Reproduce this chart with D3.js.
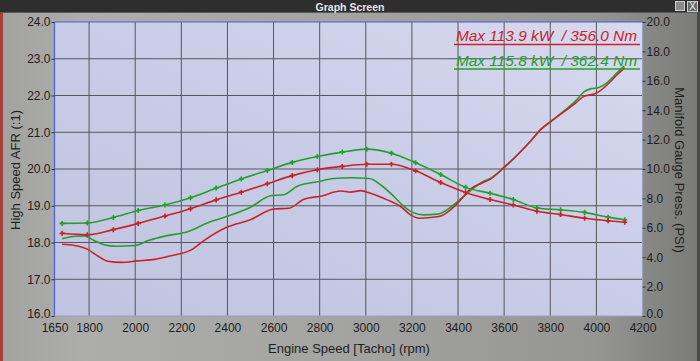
<!DOCTYPE html>
<html>
<head>
<meta charset="utf-8">
<script src="https://cdn.jsdelivr.net/npm/d3@7/dist/d3.min.js"></script>
<style>
  html, body { margin: 0; padding: 0; background: #9c9c9a; }
  svg { display: block; }
  text { font-family: "Liberation Sans", Arial, sans-serif; }
</style>
</head>
<body>
<svg id="chart" width="700" height="361"></svg>
<script>
// ---------------- DATA ----------------
const xTicks = [1650, 1800, 2000, 2200, 2400, 2600, 2800, 3000, 3200, 3400, 3600, 3800, 4000, 4200];
const afrTicks = [16, 17, 18, 19, 20, 21, 22, 23, 24];
const psiTicks = [0, 2, 4, 6, 8, 10, 12, 14, 16, 18, 20];

// AFR curves with markers (left axis)
const markerRpm = [1683, 1792, 1905, 2013, 2129, 2240, 2351, 2460, 2573, 2681, 2790, 2898,
                   3004, 3111, 3216, 3325, 3433, 3539, 3640, 3742, 3845, 3949, 4051, 4123];
const greenAfr = [18.52, 18.53, 18.68, 18.87, 19.02, 19.22, 19.48, 19.73, 19.96, 20.18, 20.34, 20.46,
                  20.54, 20.43, 20.17, 19.85, 19.50, 19.34, 19.17, 18.94, 18.89, 18.82, 18.69, 18.62];
const redAfr   = [18.25, 18.21, 18.35, 18.52, 18.72, 18.92, 19.16, 19.37, 19.60, 19.82, 19.98, 20.07,
                  20.13, 20.13, 19.95, 19.63, 19.36, 19.17, 19.02, 18.85, 18.76, 18.66, 18.59, 18.55];

// Manifold pressure curves (right axis, PSI)
const greenPsiRpm = [1683, 1740, 1782, 1822, 1869, 1915, 2000, 2060, 2133, 2227, 2312, 2399, 2500, 2587,
                     2645, 2703, 2790, 2862, 2934, 3015, 3064, 3122, 3165, 3202, 3252, 3310, 3368, 3411,
                     3455, 3498, 3542, 3604, 3657, 3715, 3758, 3806, 3860, 3911, 3946, 3975, 4011, 4048,
                     4084, 4120];
const greenPsi = [5.25, 5.43, 5.45, 5.13, 4.83, 4.75, 4.80, 5.15, 5.45, 5.73, 6.33, 6.78, 7.40, 8.18,
                  8.25, 8.83, 9.13, 9.35, 9.40, 9.35, 8.93, 8.13, 7.45, 7.05, 6.88, 6.93, 7.40, 7.95,
                  8.55, 9.05, 9.38, 10.15, 10.95, 11.90, 12.68, 13.28, 13.95, 14.65, 15.25, 15.45, 15.55, 15.90,
                  16.45, 17.00];
const redPsiRpm = [1683, 1737, 1794, 1838, 1881, 1939, 2011, 2084, 2156, 2243, 2298, 2399, 2500, 2601,
                   2667, 2732, 2804, 2891, 2934, 2977, 3021, 3093, 3151, 3194, 3231, 3281, 3325, 3368,
                   3411, 3455, 3505, 3542, 3604, 3657, 3715, 3758, 3806, 3860, 3911, 3946, 3990, 4019,
                   4055, 4091, 4123];
const redPsi = [4.88, 4.80, 4.53, 4.08, 3.73, 3.65, 3.75, 3.85, 4.10, 4.50, 5.13, 6.05, 6.55, 7.28,
                7.33, 7.95, 8.15, 8.50, 8.43, 8.53, 8.35, 7.90, 7.45, 6.88, 6.65, 6.70, 6.80, 7.23,
                7.90, 8.65, 9.05, 9.33, 10.18, 10.95, 11.90, 12.68, 13.28, 13.90, 14.50, 14.95, 15.10, 15.35,
                15.85, 16.43, 16.88];

const legendLines = ["Max 113.9 kW  / 356.0 Nm", "Max 115.8 kW  / 362.4 Nm"];

// ---------------- DRAW ----------------
const RED = "#c9232a", GREEN = "#22a02a";
const svg = d3.select("#chart");
const W = 700, H = 361;
const L = 54.5, R = 642.5, T = 22, B = 316;

const defs = svg.append("defs");
const frameGrad = defs.append("linearGradient").attr("id", "frameGrad").attr("x1", 0).attr("x2", 1).attr("y1", 0).attr("y2", 0);
[[0, "#a2a2a0"], [0.12, "#adadab"], [0.5, "#a3a3a1"], [0.85, "#959593"], [1, "#7a7a78"]]
  .forEach(([o, c]) => frameGrad.append("stop").attr("offset", o).attr("stop-color", c));
const plotGrad = defs.append("linearGradient").attr("id", "plotGrad").attr("x1", 0).attr("x2", 1).attr("y1", 1).attr("y2", 0);
[[0, "#c0c4e0"], [0.5, "#c9cce6"], [1, "#d7d9ee"]]
  .forEach(([o, c]) => plotGrad.append("stop").attr("offset", o).attr("stop-color", c));

// window frame
svg.append("rect").attr("x", 0).attr("y", 0).attr("width", W).attr("height", H).attr("fill", "url(#frameGrad)");
svg.append("rect").attr("x", 0).attr("y", 12).attr("width", 3).attr("height", H - 12).attr("fill", "#a8403c");
svg.append("rect").attr("x", 697).attr("y", 12).attr("width", 3).attr("height", H - 12).attr("fill", "#4a4a48");
svg.append("rect").attr("x", 0).attr("y", 0).attr("width", W).attr("height", 13).attr("fill", "#2e2e2e");
svg.append("rect").attr("x", 0).attr("y", 12).attr("width", W).attr("height", 1).attr("fill", "#5a5a5a");
svg.append("text").attr("x", 350).attr("y", 10.5).attr("text-anchor", "middle")
  .attr("font-size", 10.5).attr("font-weight", "bold").attr("fill", "#e6e6e6").text("Graph Screen");
svg.append("rect").attr("x", 675.5).attr("y", 1.5).attr("width", 9).attr("height", 9).attr("fill", "#8a8a8a").attr("stroke", "#cfcfcf");
svg.append("rect").attr("x", 687.5).attr("y", 1.5).attr("width", 10).attr("height", 10).attr("fill", "#6a6a6a").attr("stroke", "#cfcfcf");
svg.append("text").attr("x", 692.5).attr("y", 10).attr("text-anchor", "middle").attr("font-size", 10).attr("fill", "#f0f0f0").text("X");

// scales
const x = d3.scaleLinear().domain([1650, 4200]).range([L, R]);
const yL = d3.scaleLinear().domain([16, 24]).range([B, T]);
const yR = d3.scaleLinear().domain([0, 20]).range([B, T]);

// plot background
svg.append("rect").attr("x", L).attr("y", T).attr("width", R - L).attr("height", B - T).attr("fill", "url(#plotGrad)");

// grid
const grid = svg.append("g").attr("stroke", "#56565c").attr("stroke-width", 1);
grid.selectAll("line.v").data(xTicks.filter(d => d > 1650 && d < 4200)).join("line")
  .attr("x1", d => x(d)).attr("x2", d => x(d)).attr("y1", T).attr("y2", B);
grid.selectAll("line.h").data(afrTicks.filter(d => d > 16 && d < 24)).join("line")
  .attr("y1", d => yL(d)).attr("y2", d => yL(d)).attr("x1", L).attr("x2", R);

// plot border
svg.append("line").attr("x1", L).attr("x2", L).attr("y1", T).attr("y2", B).attr("stroke", "#4a5ee0").attr("stroke-width", 1.2);
svg.append("line").attr("x1", L).attr("x2", R).attr("y1", T).attr("y2", T).attr("stroke", "#4a5ee0").attr("stroke-width", 1.2);
svg.append("line").attr("x1", R).attr("x2", R).attr("y1", T).attr("y2", B).attr("stroke", "#9aa0c8").attr("stroke-width", 1);
svg.append("line").attr("x1", L).attr("x2", R).attr("y1", B).attr("y2", B).attr("stroke", "#9aa0c8").attr("stroke-width", 1);

// axes
const fmt = d3.format(".1f");
const axL = svg.append("g").attr("transform", `translate(${L},0)`)
  .call(d3.axisLeft(yL).tickValues(afrTicks).tickFormat(fmt).tickSize(3).tickPadding(1));
const axR = svg.append("g").attr("transform", `translate(${R},0)`)
  .call(d3.axisRight(yR).tickValues(psiTicks).tickFormat(fmt).tickSize(3).tickPadding(1));
const axB = svg.append("g").attr("transform", `translate(0,${B})`)
  .call(d3.axisBottom(x).tickValues(xTicks).tickFormat(d3.format("d")).tickSize(0).tickPadding(7));
[axL, axR, axB].forEach(a => {
  a.select(".domain").remove();
  a.selectAll(".tick line").attr("stroke", "#333");
  a.selectAll(".tick text").attr("font-size", 12).attr("fill", "#1e1e1e")
    .attr("font-family", "'Liberation Sans', Arial, sans-serif");
});
// lift the bottom-most side labels slightly so they clear the rpm labels
axL.selectAll(".tick").filter(d => d === 16).select("text").attr("dy", "0.1em");
axR.selectAll(".tick").filter(d => d === 0).select("text").attr("dy", "0.1em");

// axis titles
svg.append("text").attr("transform", "translate(20,170) rotate(-90)").attr("text-anchor", "middle")
  .attr("font-size", 13).attr("fill", "#1e1e1e").text("High Speed AFR (:1)");
svg.append("text").attr("transform", "translate(675,170) rotate(90)").attr("text-anchor", "middle")
  .attr("font-size", 13).attr("fill", "#1e1e1e").text("Manifold Gauge Press. (PSI)");
svg.append("text").attr("x", 349).attr("y", 353).attr("text-anchor", "middle")
  .attr("font-size", 13).attr("fill", "#1e1e1e").text("Engine Speed [Tacho] (rpm)");

// series
const plot = svg.append("g");
const lineL = d3.line().x(d => x(d[0])).y(d => yL(d[1])).curve(d3.curveMonotoneX);
const lineR = d3.line().x(d => x(d[0])).y(d => yR(d[1])).curve(d3.curveMonotoneX);
const zip = (a, b) => a.map((v, i) => [v, b[i]]);

const series = [
  { pts: zip(greenPsiRpm, greenPsi), gen: lineR, color: GREEN, markers: false },
  { pts: zip(redPsiRpm, redPsi), gen: lineR, color: RED, markers: false },
  { pts: zip(markerRpm, greenAfr), gen: lineL, color: GREEN, markers: true },
  { pts: zip(markerRpm, redAfr), gen: lineL, color: RED, markers: true }
];
series.forEach(s => {
  plot.append("path").attr("d", s.gen(s.pts)).attr("fill", "none")
    .attr("stroke", s.color).attr("stroke-width", 1.6).attr("stroke-linejoin", "round");
  if (s.markers) {
    plot.selectAll(null).data(s.pts).join("path")
      .attr("transform", d => `translate(${x(d[0])},${yL(d[1])})`)
      .attr("d", d3.symbol(d3.symbolCross, 14)())
      .attr("fill", s.color);
  }
});

// legend (peak values)
const legColors = [RED, GREEN];
legendLines.forEach((t, i) => {
  const yb = 41 + i * 24.5;
  svg.append("text").attr("x", 456).attr("y", yb).attr("font-size", 14).attr("font-style", "italic")
    .attr("xml:space", "preserve").style("white-space", "pre")
    .attr("textLength", 181).attr("lengthAdjust", "spacingAndGlyphs")
    .attr("fill", legColors[i]).text(t);
  svg.append("line").attr("x1", 454).attr("x2", 640).attr("y1", yb + 3.5).attr("y2", yb + 3.5)
    .attr("stroke", legColors[i]).attr("stroke-width", 1.3);
});
</script>
</body>
</html>
